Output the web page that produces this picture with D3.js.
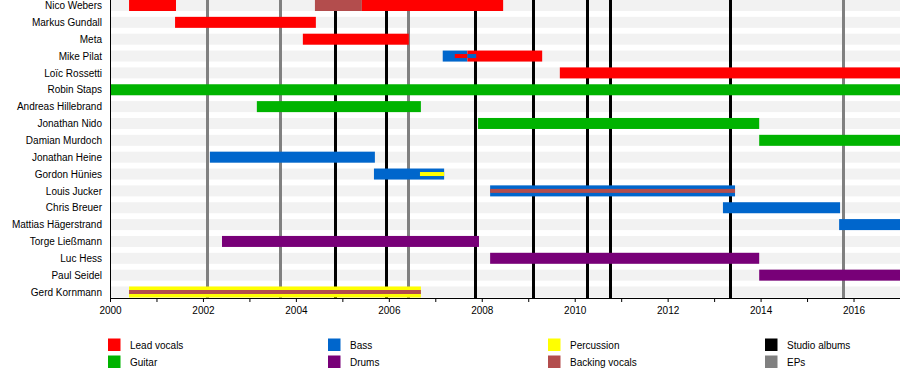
<!DOCTYPE html>
<html>
<head>
<meta charset="utf-8">
<script src="https://cdn.jsdelivr.net/npm/d3@7"></script>
<style>
  body { margin: 0; background: #fff; }
  svg { display: block; font-family: "Liberation Sans", Arial, sans-serif; }
</style>
</head>
<body>
<figure id="timeline" style="margin:0"></figure>
<script>
const members = [
  "Nico Webers", "Markus Gundall", "Meta", "Mike Pilat", "Loïc Rossetti",
  "Robin Staps", "Andreas Hillebrand", "Jonathan Nido", "Damian Murdoch",
  "Jonathan Heine", "Gordon Hünies", "Louis Jucker", "Chris Breuer",
  "Mattias Hägerstrand", "Torge Ließmann", "Luc Hess", "Paul Seidel", "Gerd Kornmann"
];

const roles = ["Lead vocals", "Guitar", "Bass", "Drums", "Percussion", "Backing vocals"];
const roleColors = ["#ff0000", "#00b300", "#0066cc", "#780078", "#ffff00", "#b34d4d"];

// [member, role, from, till]
const bars = [
  ["Nico Webers", "Lead vocals", 2000.41, 2001.42],
  ["Nico Webers", "Backing vocals", 2004.41, 2005.42],
  ["Nico Webers", "Lead vocals", 2005.42, 2008.46],
  ["Markus Gundall", "Lead vocals", 2001.40, 2004.43],
  ["Meta", "Lead vocals", 2004.15, 2006.43],
  ["Mike Pilat", "Bass", 2007.16, 2007.69],
  ["Mike Pilat", "Lead vocals", 2007.69, 2009.30],
  ["Loïc Rossetti", "Lead vocals", 2009.68, 2017],
  ["Robin Staps", "Guitar", 2000, 2017],
  ["Andreas Hillebrand", "Guitar", 2003.16, 2006.69],
  ["Jonathan Nido", "Guitar", 2007.92, 2013.97],
  ["Damian Murdoch", "Guitar", 2013.97, 2017],
  ["Jonathan Heine", "Bass", 2002.15, 2005.70],
  ["Gordon Hünies", "Bass", 2005.68, 2007.19],
  ["Louis Jucker", "Bass", 2008.18, 2013.45],
  ["Chris Breuer", "Bass", 2013.19, 2015.71],
  ["Mattias Hägerstrand", "Bass", 2015.69, 2017],
  ["Torge Ließmann", "Drums", 2002.41, 2007.94],
  ["Luc Hess", "Drums", 2008.18, 2013.97],
  ["Paul Seidel", "Drums", 2013.97, 2017],
  ["Gerd Kornmann", "Percussion", 2000.41, 2006.69]
];

// thin secondary-role stripes drawn over the main bars
const overlays = [
  ["Mike Pilat", "Lead vocals", 2007.42, 2007.69],
  ["Mike Pilat", "Bass", 2007.69, 2007.88],
  ["Gordon Hünies", "Percussion", 2006.67, 2007.19],
  ["Louis Jucker", "Backing vocals", 2008.18, 2013.45],
  ["Gerd Kornmann", "Backing vocals", 2000.41, 2006.69]
];

const studioAlbums = [2004.84, 2005.94, 2007.85, 2009.10, 2010.26, 2010.76, 2013.34];
const eps = [2002.09, 2003.66, 2006.41, 2015.77];

const yearTicks = [2000, 2001, 2002, 2003, 2004, 2005, 2006, 2007, 2008,
  2009, 2010, 2011, 2012, 2013, 2014, 2015, 2016, 2017];
const yearLabels = [2000, 2002, 2004, 2006, 2008, 2010, 2012, 2014, 2016];

const legendItems = [
  ["Lead vocals", "#ff0000"], ["Guitar", "#00b300"],
  ["Bass", "#0066cc"], ["Drums", "#780078"],
  ["Percussion", "#ffff00"], ["Backing vocals", "#b34d4d"],
  ["Studio albums", "#000000"], ["EPs", "#808080"]
];

const width = 900, height = 386;
const left = 110, right = 900, axisY = 298;
const barH = 11, thinH = 4;

const svg = d3.select("figure#timeline")
  .append("svg")
  .attr("width", width)
  .attr("height", height);

const x = d3.scaleLinear().domain([2000, 2017]).range([left, right]);
const y = d3.scalePoint().domain(members).range([5.5, 292]);
const color = d3.scaleOrdinal().domain(roles).range(roleColors);

// row stripes
svg.append("g").selectAll("rect")
  .data(members)
  .enter()
  .append("rect")
  .attr("x", left)
  .attr("y", d => y(d) - barH / 2)
  .attr("width", right - left)
  .attr("height", barH)
  .attr("fill", "#f2f2f2");

// release lines
svg.append("g").selectAll("line")
  .data(studioAlbums.map(v => [v, "#000000"]).concat(eps.map(v => [v, "#808080"])))
  .enter()
  .append("line")
  .attr("x1", d => Math.round(x(d[0])) + 0.5)
  .attr("x2", d => Math.round(x(d[0])) + 0.5)
  .attr("y1", 0)
  .attr("y2", axisY)
  .attr("stroke", d => d[1])
  .attr("stroke-width", 3);

// member bars
svg.append("g").selectAll("rect")
  .data(bars)
  .enter()
  .append("rect")
  .attr("x", d => x(d[2]))
  .attr("y", d => y(d[0]) - barH / 2)
  .attr("width", d => x(d[3]) - x(d[2]))
  .attr("height", barH)
  .attr("fill", d => color(d[1]));

svg.append("g").selectAll("rect")
  .data(overlays)
  .enter()
  .append("rect")
  .attr("x", d => x(d[2]))
  .attr("y", d => y(d[0]) - thinH / 2)
  .attr("width", d => x(d[3]) - x(d[2]))
  .attr("height", thinH)
  .attr("fill", d => color(d[1]));

// y axis with names
const yAxis = svg.append("g")
  .attr("transform", "translate(" + left + ",0)")
  .call(d3.axisLeft(y).tickSize(0).tickPadding(8));
yAxis.select(".domain").attr("d", "M0.5,0V" + axisY).attr("stroke", "#000");
yAxis.selectAll("text")
  .attr("font-size", 10)
  .attr("font-family", "Liberation Sans, Arial, sans-serif")
  .attr("fill", "#000");

// x axis
const xAxis = svg.append("g")
  .attr("transform", "translate(0," + axisY + ")")
  .call(d3.axisBottom(x)
    .tickValues(yearTicks)
    .tickSize(4)
    .tickSizeOuter(0)
    .tickPadding(5)
    .tickFormat(d => yearLabels.includes(d) ? String(d) : ""));
xAxis.select(".domain").attr("stroke", "#000");
xAxis.selectAll("text")
  .attr("font-size", 10)
  .attr("font-family", "Liberation Sans, Arial, sans-serif")
  .attr("fill", "#000");

// legend
const legend = svg.append("g").selectAll("g")
  .data(legendItems)
  .enter()
  .append("g")
  .attr("transform", (d, i) => "translate(" + [108, 328, 548, 765][Math.floor(i / 2)] + "," + (338.5 + (i % 2) * 17) + ")");

legend.append("rect")
  .attr("width", 12.5)
  .attr("height", 12.5)
  .attr("fill", d => d[1]);

legend.append("text")
  .attr("x", 22)
  .attr("y", 10.5)
  .attr("font-size", 10)
  .attr("fill", "#000")
  .text(d => d[0]);
</script>
</body>
</html>
